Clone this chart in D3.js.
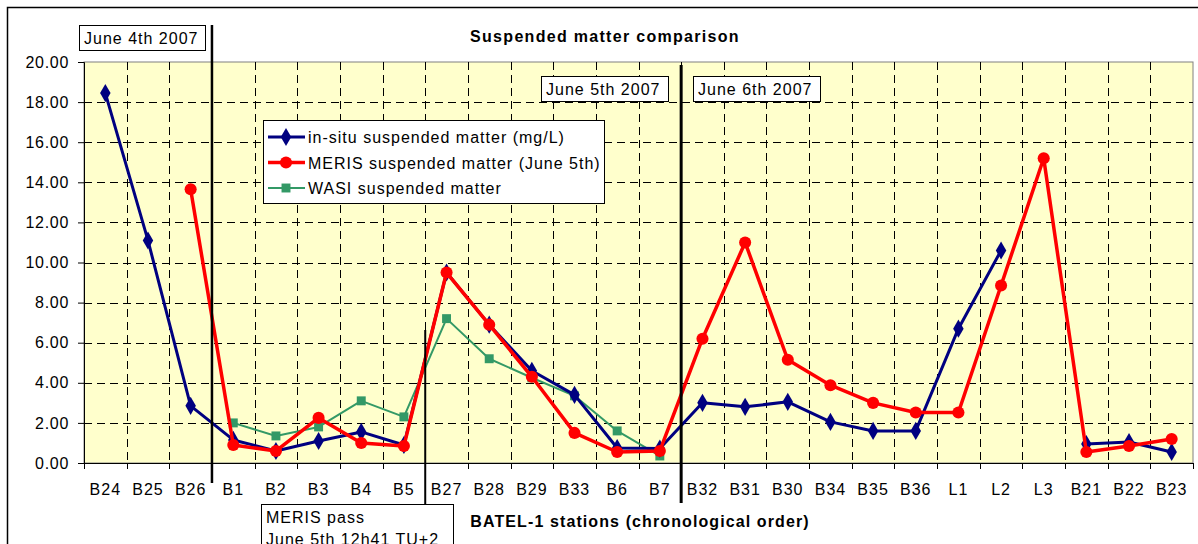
<!DOCTYPE html>
<html>
<head>
<meta charset="utf-8">
<script src="https://cdn.jsdelivr.net/npm/d3@7"></script>
<style>
  body { margin: 0; background: #fff; }
  svg { font-family: "Liberation Sans", Arial, sans-serif; }
</style>
</head>
<body>
<svg id="chart" width="1198" height="544"></svg>
<script>
// stations in chronological order
const stations = ["B24","B25","B26","B1","B2","B3","B4","B5","B27","B28","B29","B33","B6","B7",
  "B32","B31","B30","B34","B35","B36","L1","L2","L3","B21","B22","B23"];

const inSitu = [18.45,11.1,2.85,1.15,0.6,1.1,1.55,0.9,9.5,6.9,4.6,3.4,0.75,0.72,
  3.0,2.8,3.05,2.05,1.6,1.6,6.7,10.6,null,0.95,1.05,0.55];
const meris = [null,null,13.65,0.9,0.6,2.25,1.0,0.85,9.5,6.9,4.3,1.5,0.55,0.6,
  6.2,11.0,5.15,3.88,3.0,2.52,2.52,8.85,15.2,0.55,0.85,1.2];
const wasi = [null,null,null,2.0,1.35,1.8,3.1,2.3,7.2,5.2,4.25,3.35,1.6,0.35,
  null,null,null,null,null,null,null,null,null,null,null,null];

const yTicks = [0,2,4,6,8,10,12,14,16,18,20];

const svg = d3.select("#chart");
const plot = {left: 84, right: 1193, top: 62, bottom: 463};
const FS = 16, LS = 1;

const x = d3.scaleBand().domain(stations).range([plot.left, plot.right]).padding(0);
const y = d3.scaleLinear().domain([0, 20]).range([plot.bottom, plot.top]);
const cx = s => x(s) + x.bandwidth() / 2;

// outer chart frame
svg.append("rect").attr("x", 7.5).attr("y", 7.5).attr("width", 1200).attr("height", 560)
  .attr("fill", "none").attr("stroke", "#000").attr("stroke-width", 1.5);

// plot background
svg.append("rect")
  .attr("x", plot.left).attr("y", plot.top)
  .attr("width", plot.right - plot.left).attr("height", plot.bottom - plot.top)
  .attr("fill", "#ffffcc").attr("stroke", "#808080").attr("stroke-width", 1);

// grid
const grid = svg.append("g").attr("stroke", "#000").attr("stroke-width", 1)
  .attr("stroke-dasharray", "8,5");
grid.selectAll(".hg").data(yTicks.filter(d => d > 0 && d < 20)).enter().append("line")
  .attr("x1", plot.left).attr("x2", plot.right)
  .attr("y1", d => Math.round(y(d)) + 0.5).attr("y2", d => Math.round(y(d)) + 0.5);
grid.selectAll(".vg").data(stations.slice(1)).enter().append("line")
  .attr("x1", d => Math.round(x(d)) + 0.5).attr("x2", d => Math.round(x(d)) + 0.5)
  .attr("y1", plot.top).attr("y2", plot.bottom);

// axes
const yAxis = svg.append("g").attr("transform", `translate(${plot.left},0)`)
  .call(d3.axisLeft(y).tickValues(yTicks).tickFormat(d3.format(".2f")).tickSize(6).tickPadding(9));
yAxis.select(".domain").attr("stroke", "#000");
yAxis.selectAll("text").attr("font-size", FS).attr("letter-spacing", 0.7).attr("fill", "#000");

const xAxis = svg.append("g").attr("transform", `translate(0,${plot.bottom})`)
  .call(d3.axisBottom(x).tickSize(0).tickPadding(21));
xAxis.select(".domain").attr("stroke", "#000");
xAxis.selectAll("text").attr("font-size", FS).attr("letter-spacing", LS).attr("fill", "#000");
// tick marks between categories
svg.append("g").selectAll("line").data(stations.concat(["end"])).enter().append("line")
  .attr("x1", (d, i) => Math.round(plot.left + i * x.bandwidth()) + 0.5)
  .attr("x2", (d, i) => Math.round(plot.left + i * x.bandwidth()) + 0.5)
  .attr("y1", plot.bottom).attr("y2", plot.bottom + 6)
  .attr("stroke", "#000");

// series
const series = [
  {name: "in-situ suspended matter (mg/L)", values: inSitu, color: "#000080", width: 3, marker: "diamond"},
  {name: "MERIS suspended matter (June 5th)", values: meris, color: "#ff0000", width: 3.5, marker: "circle"},
  {name: "WASI suspended matter", values: wasi, color: "#339966", width: 2, marker: "square"}
];

const symbols = {
  diamond: d3.symbol().type(d3.symbolDiamond).size(95),
  circle: d3.symbol().type(d3.symbolCircle).size(115),
  square: d3.symbol().type(d3.symbolSquare).size(80)
};

// WASI underneath, then in-situ, MERIS on top
const drawOrder = [series[2], series[0], series[1]];
drawOrder.forEach(s => {
  const pts = stations.map((st, i) => ({st, v: s.values[i]}));
  const line = d3.line().defined(d => d.v !== null).x(d => cx(d.st)).y(d => y(d.v));
  svg.append("path").datum(pts).attr("d", line)
    .attr("fill", "none").attr("stroke", s.color).attr("stroke-width", s.width)
    .attr("stroke-linejoin", "round");
  svg.append("g").selectAll("path").data(pts.filter(d => d.v !== null)).enter().append("path")
    .attr("d", symbols[s.marker])
    .attr("transform", d => `translate(${cx(d.st)},${y(d.v)})`)
    .attr("fill", s.color);
});

// date separators
const sep = [
  {at: "B1", y1: 25, y2: 483, w: 2.5},
  {at: "B27", y1: 330, y2: 504, w: 2},
  {at: "B32", y1: 65, y2: 503, w: 3}
];
svg.append("g").selectAll("line").data(sep).enter().append("line")
  .attr("x1", d => x(d.at)).attr("x2", d => x(d.at))
  .attr("y1", d => d.y1).attr("y2", d => d.y2)
  .attr("stroke", "#000").attr("stroke-width", d => d.w);

// annotation boxes
const notes = [
  {lines: ["June 4th 2007"], x: 79, y: 25, w: 126, h: 25},
  {lines: ["June 5th 2007"], x: 541, y: 76, w: 127, h: 25},
  {lines: ["June 6th 2007"], x: 693, y: 76, w: 127, h: 25},
  {lines: ["MERIS pass", "June 5th 12h41 TU+2"], x: 261, y: 504, w: 192, h: 60}
];
notes.forEach(n => {
  const g = svg.append("g");
  g.append("rect").attr("x", n.x + 0.5).attr("y", n.y + 0.5).attr("width", n.w).attr("height", n.h)
    .attr("fill", "#fff").attr("stroke", "#000").attr("stroke-width", 1);
  n.lines.forEach((t, i) => {
    g.append("text").attr("x", n.x + 5).attr("y", n.y + 19 + i * 22)
      .attr("font-size", FS).attr("letter-spacing", LS).attr("fill", "#000").text(t);
  });
});

// titles
svg.append("text").attr("x", 605).attr("y", 42).attr("text-anchor", "middle")
  .attr("font-size", FS).attr("letter-spacing", 1.3).attr("font-weight", "bold")
  .text("Suspended matter comparison");
svg.append("text").attr("x", 640).attr("y", 527).attr("text-anchor", "middle")
  .attr("font-size", FS).attr("letter-spacing", 1.1).attr("font-weight", "bold")
  .text("BATEL-1 stations (chronological order)");

// legend
const lg = svg.append("g").attr("transform", "translate(263,120)");
lg.append("rect").attr("x", 0.5).attr("y", 0.5).attr("width", 341).attr("height", 83)
  .attr("fill", "#fff").attr("stroke", "#000").attr("stroke-width", 1);
series.forEach((s, i) => {
  const yy = 17 + i * 25.5;
  lg.append("line").attr("x1", 5).attr("x2", 42).attr("y1", yy).attr("y2", yy)
    .attr("stroke", s.color).attr("stroke-width", s.width);
  lg.append("path").attr("d", symbols[s.marker]).attr("transform", `translate(23,${yy})`)
    .attr("fill", s.color);
  lg.append("text").attr("x", 45).attr("y", yy + 6).attr("font-size", FS).attr("letter-spacing", LS)
    .attr("fill", "#000").text(s.name);
});
</script>
</body>
</html>
